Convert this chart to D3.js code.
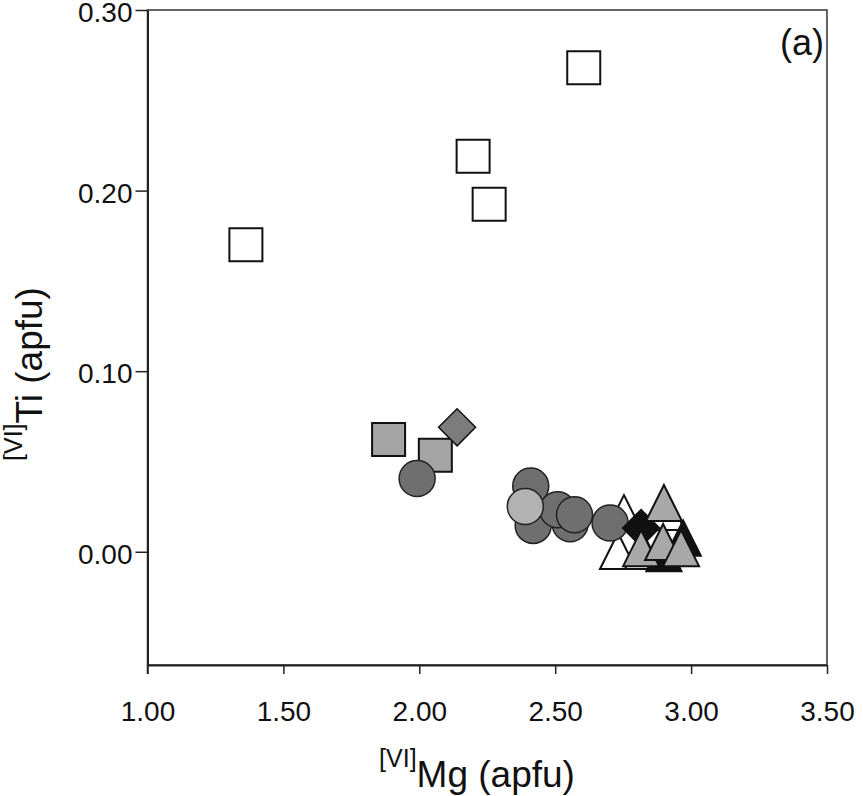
<!DOCTYPE html>
<html>
<head>
<meta charset="utf-8">
<script src="https://cdn.jsdelivr.net/npm/d3@7/dist/d3.min.js"></script>
<style>
  body { margin: 0; background: #fff; }
  text { font-family: "Liberation Sans", Arial, sans-serif; fill: #111; }
  .axis path, .axis line { stroke: #222; }
</style>
</head>
<body>
<div id="svg-container"></div>
<script>
// axis ticks
var xTicks = [1.0, 1.5, 2.0, 2.5, 3.0, 3.5];
var yTicks = [0.0, 0.1, 0.2, 0.3];

// open squares
var openSquareMg = [2.605, 2.198, 2.257, 1.362];
var openSquareTi = [0.268, 0.219, 0.1925, 0.170];

// grey squares
var greySquareMg = [1.887, 2.059];
var greySquareTi = [0.0622, 0.0535];

// grey diamond
var greyDiamondMg = [2.139];
var greyDiamondTi = [0.0689];

// white triangles
var whiteTriMg = [2.753, 2.731, 2.823, 2.911];
var whiteTriTi = [0.0214, 0.0004, 0.0004, 0.022];

// dark circles
var darkCircleMg = [1.992, 2.410, 2.419, 2.555, 2.509, 2.571, 2.702];
var darkCircleTi = [0.0406, 0.0364, 0.0146, 0.0155, 0.0233, 0.0205, 0.0159];

// light circle
var lightCircleMg = [2.390];
var lightCircleTi = [0.0251];

// black triangles
var blackTriMg = [2.971, 2.900];
var blackTriTi = [0.0076, -0.001];

// black diamond
var blackDiamondMg = [2.816];
var blackDiamondTi = [0.0131];

// grey triangles
var greyTriMg = [2.900, 2.816, 2.897, 2.963];
var greyTriTi = [0.027, 0.002, 0.0054, 0.002];

var svgWidth = 863;
var svgHeight = 796;
var plot = { left : 147.5, right : 827, top : 10, bottom : 665 };

var x = d3.scaleLinear()
          .domain([1.0, 3.5])
          .range([plot.left, plot.right]);

var y = d3.scaleLinear()
          .domain([-0.0627, 0.30])
          .range([plot.bottom, plot.top]);

var svg = d3.select("#svg-container").append("svg")
    .attr("width", svgWidth)
    .attr("height", svgHeight);

// frame
svg.append("rect")
   .attr("x", plot.left)
   .attr("y", plot.top)
   .attr("width", plot.right - plot.left)
   .attr("height", plot.bottom - plot.top)
   .attr("fill", "none")
   .attr("stroke", "#333")
   .attr("stroke-width", 1.5);

// x-axis
var xAxis = d3.axisBottom(x)
              .tickValues(xTicks)
              .tickFormat(d3.format(".2f"))
              .tickSize(9)
              .tickPadding(27)
              .tickSizeOuter(0);

svg.append("g")
   .attr("class", "x axis")
   .attr("transform", "translate(0," + plot.bottom + ")")
   .call(xAxis)
   .call(function(g) {
     g.select(".domain").attr("stroke-width", 2);
     g.selectAll(".tick line").attr("stroke-width", 1.5);
     g.selectAll("text").attr("font-size", 28).attr("fill", "#111");
   });

// y-axis
var yAxis = d3.axisLeft(y)
              .tickValues(yTicks)
              .tickFormat(d3.format(".2f"))
              .tickSize(12)
              .tickPadding(3)
              .tickSizeOuter(0);

svg.append("g")
   .attr("class", "y axis")
   .attr("transform", "translate(" + plot.left + ",0)")
   .call(yAxis)
   .call(function(g) {
     g.select(".domain").attr("stroke-width", 2);
     g.selectAll(".tick line").attr("stroke-width", 1.5);
     g.selectAll("text").attr("font-size", 28).attr("fill", "#111").attr("dy", "0.42em");
   });

// left axis runs down to the x tick
svg.append("line")
   .attr("x1", plot.left).attr("x2", plot.left)
   .attr("y1", plot.bottom).attr("y2", plot.bottom + 9)
   .attr("stroke", "#222")
   .attr("stroke-width", 1.5);

// marker shapes
var sq = 33, tri = 36, dia = 18.5;
var shapes = {
  square : "M" + (-sq / 2) + "," + (-sq / 2) + "h" + sq + "v" + sq + "h" + (-sq) + "Z",
  triangle : "M0," + (-tri / 2) + "L" + (tri / 2) + "," + (tri / 2) + "L" + (-tri / 2) + "," + (tri / 2) + "Z",
  diamond : "M0," + (-dia) + "L" + dia + ",0L0," + dia + "L" + (-dia) + ",0Z"
};

function zip(mg, ti) {
  return mg.map(function(d, i) { return { mg : d, ti : ti[i] }; });
}

function drawPaths(data, shape, fill, strokeWidth) {
  svg.append("g").selectAll("path")
     .data(data)
     .enter()
       .append("path")
       .attr("d", shapes[shape])
       .attr("transform", function(d) {
         return "translate(" + x(d.mg) + "," + y(d.ti) + ")";
       })
       .attr("fill", fill)
       .attr("stroke", "#111")
       .attr("stroke-width", strokeWidth);
}

function drawCircles(data, fill) {
  svg.append("g").selectAll("circle")
     .data(data)
     .enter()
       .append("circle")
       .attr("cx", function(d) { return x(d.mg); })
       .attr("cy", function(d) { return y(d.ti); })
       .attr("r", 18)
       .attr("fill", fill)
       .attr("stroke", "#222")
       .attr("stroke-width", 1.5);
}

drawPaths(zip(openSquareMg, openSquareTi), "square", "#fff", 2);
drawPaths(zip(greySquareMg, greySquareTi), "square", "#a4a4a4", 2);
drawPaths(zip(greyDiamondMg, greyDiamondTi), "diamond", "#7c7c7c", 1.5);
drawPaths(zip(whiteTriMg, whiteTriTi), "triangle", "#fff", 2);
drawCircles(zip(darkCircleMg, darkCircleTi), "#6f6f6f");
drawCircles(zip(lightCircleMg, lightCircleTi), "#b2b2b2");
drawPaths(zip(blackTriMg, blackTriTi), "triangle", "#111", 1.5);
drawPaths(zip(blackDiamondMg, blackDiamondTi), "diamond", "#111", 1.5);
drawPaths(zip(greyTriMg, greyTriTi), "triangle", "#a8a8a8", 2);

// panel label
svg.append("text")
   .attr("x", 824)
   .attr("y", 55)
   .attr("text-anchor", "end")
   .attr("font-size", 36)
   .text("(a)");

// x-axis title
var xTitle = svg.append("text")
   .attr("x", 477)
   .attr("y", 787)
   .attr("text-anchor", "middle")
   .attr("font-size", 37);
xTitle.append("tspan").attr("font-size", 25).attr("dy", -20).text("[VI]");
xTitle.append("tspan").attr("dy", 20).text("Mg (apfu)");

// y-axis title
var yTitle = svg.append("text")
   .attr("transform", "translate(42,374) rotate(-90)")
   .attr("text-anchor", "middle")
   .attr("font-size", 37);
yTitle.append("tspan").attr("font-size", 25).attr("dy", -20).text("[VI]");
yTitle.append("tspan").attr("dy", 20).text("Ti (apfu)");
</script>
</body>
</html>
